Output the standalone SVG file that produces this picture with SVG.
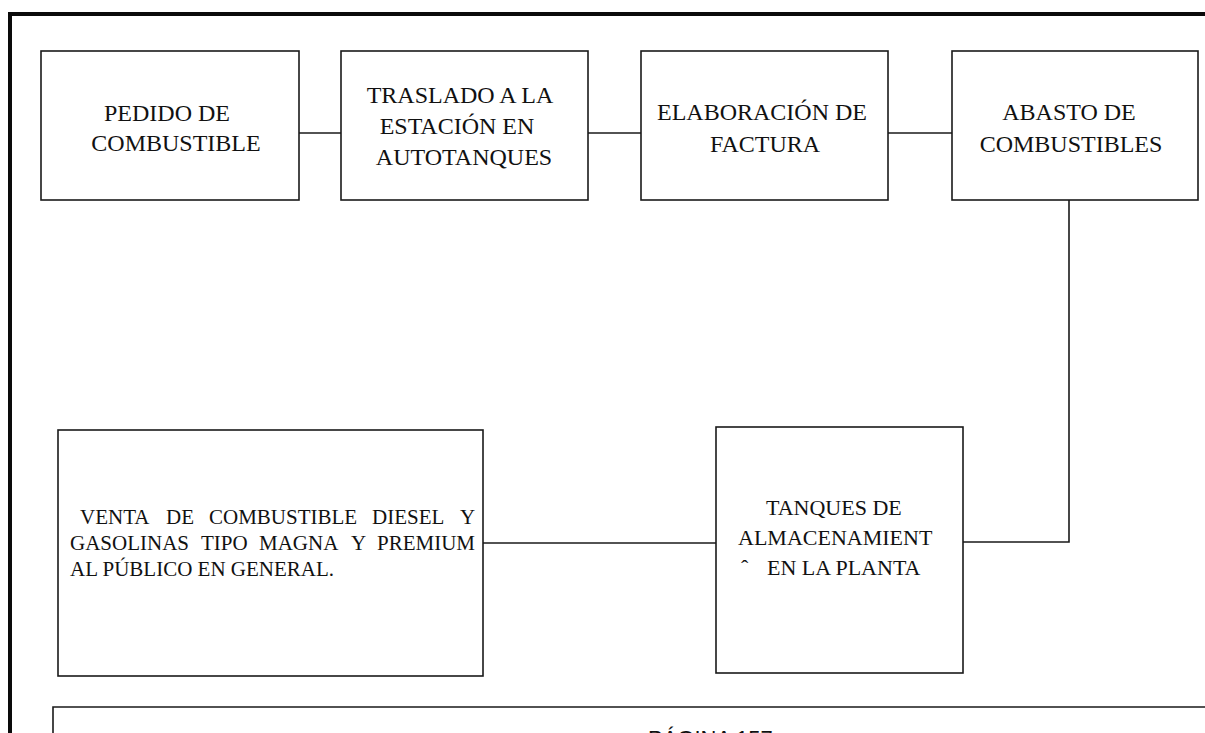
<svg xmlns="http://www.w3.org/2000/svg" width="1205" height="733" viewBox="0 0 1205 733">
<style>
  .box { fill: #ffffff; stroke: #1a1a1a; stroke-width: 1.6; }
  .conn { fill: none; stroke: #1a1a1a; stroke-width: 1.6; }
  .frame { fill: none; stroke: #0a0a0a; stroke-width: 4; }
  .t { font-family: "Liberation Serif", "Times New Roman", serif; font-size: 24px; fill: #111; }
  .s { font-family: "Liberation Serif", "Times New Roman", serif; font-size: 22px; fill: #111; }
  .v { font-family: "Liberation Serif", "Times New Roman", serif; font-size: 21px; fill: #111; }
  .m { text-anchor: middle; }
  .foot { font-family: "Liberation Sans", Arial, sans-serif; font-size: 22px; fill: #111; }
</style>
<rect x="0" y="0" width="1205" height="733" fill="#ffffff"/>
<path class="frame" d="M10 733 V14 H1205"/>
<g id="footer">
  <path class="conn" d="M53 733 V707 H1205" stroke="#333"/>
  <text class="foot" x="648" y="746">PÁGINA 157</text>
</g>
<g id="connectors">
  <line class="conn" x1="299" y1="133" x2="341" y2="133"/>
  <line class="conn" x1="588" y1="133" x2="641" y2="133"/>
  <line class="conn" x1="888" y1="133" x2="952" y2="133"/>
  <path class="conn" d="M1069 200 V542 H963"/>
  <line class="conn" x1="483" y1="543" x2="716" y2="543"/>
</g>
<g id="pedido">
  <rect class="box" x="41" y="51" width="258" height="149"/>
  <text class="t m" x="167" y="121">PEDIDO DE</text>
  <text class="t m" x="176" y="151">COMBUSTIBLE</text>
</g>
<g id="traslado">
  <rect class="box" x="341" y="51" width="247" height="149"/>
  <text class="t m" x="460" y="103">TRASLADO A LA</text>
  <text class="t m" x="457" y="134">ESTACIÓN EN</text>
  <text class="t m" x="464" y="165">AUTOTANQUES</text>
</g>
<g id="elaboracion">
  <rect class="box" x="641" y="51" width="247" height="149"/>
  <text class="t m" x="762" y="120">ELABORACIÓN DE</text>
  <text class="t m" x="765" y="152">FACTURA</text>
</g>
<g id="abasto">
  <rect class="box" x="952" y="51" width="246" height="149"/>
  <text class="t m" x="1069" y="120">ABASTO DE</text>
  <text class="t m" x="1071" y="152">COMBUSTIBLES</text>
</g>
<g id="tanques">
  <rect class="box" x="716" y="427" width="247" height="246"/>
  <text class="s" x="766" y="515">TANQUES DE</text>
  <text class="s" x="738" y="545">ALMACENAMIENT</text>
  <text class="s" x="741" y="575">ˆ<tspan x="767">EN LA PLANTA</tspan></text>
</g>
<g id="venta">
  <rect class="box" x="58" y="430" width="425" height="246"/>
  <text class="v" y="524"><tspan x="80">VENTA</tspan><tspan x="166">DE</tspan><tspan x="209">COMBUSTIBLE</tspan><tspan x="372">DIESEL</tspan><tspan x="460">Y</tspan></text>
  <text class="v" y="550"><tspan x="70">GASOLINAS</tspan><tspan x="201">TIPO</tspan><tspan x="259">MAGNA</tspan><tspan x="351">Y</tspan><tspan x="377">PREMIUM</tspan></text>
  <text class="v" x="70" y="576">AL PÚBLICO EN GENERAL.</text>
</g>
</svg>
